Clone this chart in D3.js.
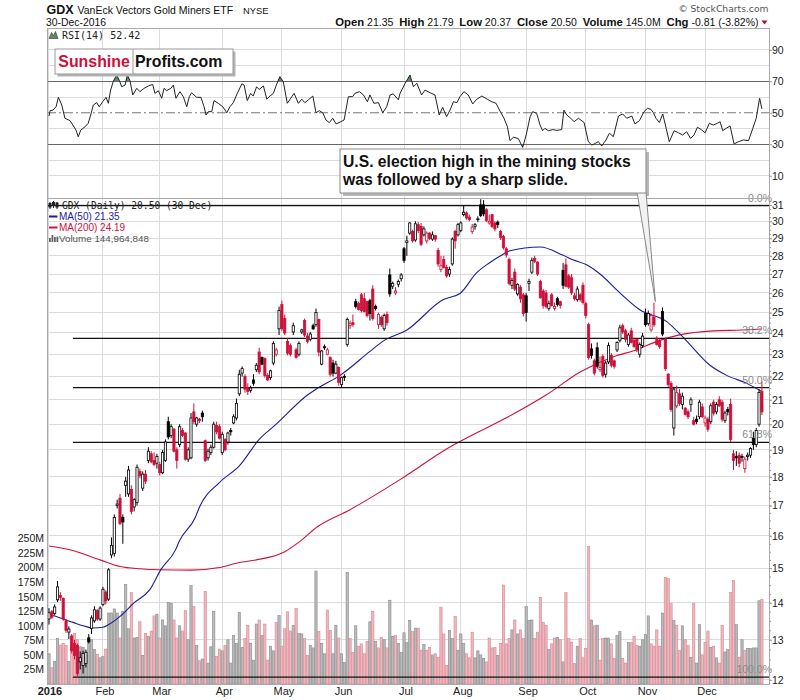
<!DOCTYPE html>
<html>
<head>
<meta charset="utf-8">
<script src="https://cdn.jsdelivr.net/npm/d3@7"></script>
<style>
  body { margin: 0; background: #fff; }
</style>
</head>
<body>
<div id="chart"></div>
<script>
// ---- data (GDX daily, 2016) ----
const monthLabels = ["2016", "Feb", "Mar", "Apr", "May", "Jun", "Jul", "Aug", "Sep", "Oct", "Nov", "Dec"];
const monthStarts = [0, 19, 39, 61, 82, 103, 125, 145, 168, 189, 210, 231]; // trading day index

const opens = [13.55,13.75,13.70,14.08,14.20,14.12,13.50,13.20,13.10,12.90,
  12.85,12.44,12.35,12.40,13.05,13.30,13.50,13.78,13.55,13.95,
  14.30,14.10,15.40,15.45,17.00,17.25,16.60,17.70,17.40,17.55,
  16.95,17.10,18.20,17.60,18.10,18.60,18.85,18.60,18.50,18.45,
  18.15,18.60,20.10,19.55,19.80,19.00,19.20,19.75,19.65,18.65,
  18.70,20.50,20.00,20.20,20.45,19.35,18.70,18.90,19.10,19.95,
  19.90,18.90,19.40,19.30,19.75,20.05,20.25,21.25,22.15,22.00,
  21.50,21.40,21.85,22.30,23.10,22.85,22.80,22.05,21.95,22.60,
  23.00,24.20,25.40,24.70,23.60,23.40,24.05,23.20,23.00,24.05,
  24.60,23.85,23.70,24.35,24.40,24.65,22.55,23.35,23.00,22.85,
  22.60,22.15,22.40,21.65,22.00,23.45,24.35,24.50,25.55,25.45,
  25.90,25.70,25.55,25.60,26.20,25.30,24.40,24.75,24.20,24.90,
  26.95,26.35,26.00,26.45,26.75,28.40,28.75,29.30,29.40,28.90,
  29.80,29.70,29.20,28.85,29.30,28.95,29.15,28.30,27.25,27.80,
  27.35,27.00,27.55,29.40,29.20,29.45,30.40,30.50,30.25,29.40,
  29.70,30.10,31.00,31.00,30.70,29.90,30.40,29.90,29.95,29.40,
  29.10,28.40,27.80,26.40,27.10,25.95,26.30,25.90,25.85,26.50,
  27.10,27.85,27.65,26.60,26.10,26.00,25.20,25.90,25.20,25.70,
  25.55,27.20,27.50,26.90,26.80,25.85,25.65,25.90,26.40,25.45,
  24.40,23.25,22.70,23.30,22.30,22.90,22.10,22.65,22.95,22.70,
  23.20,23.65,24.35,24.10,23.45,24.10,23.65,23.70,23.00,23.40,
  24.95,24.45,24.15,24.75,23.75,23.60,25.05,23.70,22.10,21.70,
  19.85,20.75,21.25,20.80,20.65,20.50,20.80,20.15,20.20,20.30,
  20.70,20.05,20.20,20.10,20.90,20.50,21.00,20.90,20.15,20.60,
  20.80,18.85,18.75,18.80,18.75,18.30,18.75,18.80,19.45,19.20,
  20.00,21.35];

const highs = [13.85,13.80,13.95,14.62,14.30,14.15,13.55,13.35,13.15,13.00,
  12.90,12.70,12.72,12.75,13.15,13.65,13.90,13.82,13.90,14.45,
  14.35,15.00,15.95,16.70,17.20,17.40,16.70,18.00,18.40,17.70,
  17.25,18.45,18.30,18.20,18.25,19.10,18.95,18.90,18.85,18.55,
  19.00,19.40,20.30,20.00,19.85,19.10,20.00,19.85,19.70,19.10,
  20.45,20.85,20.30,20.25,20.55,19.40,19.05,19.20,20.10,20.10,
  20.00,19.70,19.45,19.70,19.85,20.40,21.05,22.30,22.45,22.10,
  21.70,21.60,22.10,22.60,23.30,22.90,22.85,22.15,22.30,23.60,
  23.30,25.30,25.60,24.90,23.75,23.50,24.50,23.30,23.60,24.20,
  24.70,24.00,24.05,24.45,25.20,24.70,23.20,23.45,23.30,22.90,
  22.75,22.70,22.45,22.00,22.10,24.75,24.60,24.90,25.70,25.55,
  26.00,26.00,25.60,25.70,26.40,25.40,25.00,24.85,24.95,25.05,
  27.30,26.60,26.30,26.70,27.05,28.50,29.15,29.95,29.50,30.00,
  29.95,29.90,29.70,29.40,29.35,29.40,29.20,28.45,28.00,28.00,
  27.50,27.40,29.05,29.50,29.90,30.00,30.95,30.60,30.40,29.85,
  29.90,30.30,31.35,31.30,30.80,30.40,30.45,30.00,30.05,29.50,
  29.20,28.50,27.90,26.80,27.30,26.50,26.40,26.00,26.00,26.75,
  27.90,28.00,27.70,26.70,26.20,26.15,25.60,26.00,25.50,25.80,
  25.60,27.60,27.85,27.00,27.00,26.00,26.35,26.00,26.55,25.55,
  24.50,23.50,22.80,23.55,22.90,23.00,22.70,23.55,23.05,22.75,
  23.60,24.40,24.45,24.20,24.00,24.25,23.75,23.75,23.55,24.00,
  25.20,25.10,24.95,25.50,23.85,23.75,25.25,23.80,22.15,21.80,
  21.55,21.60,21.45,21.30,20.70,20.60,21.10,20.30,20.35,21.00,
  20.85,20.35,20.30,20.85,21.00,20.90,21.15,21.00,20.55,20.70,
  21.05,19.00,18.95,18.90,18.85,18.75,18.90,19.10,19.70,19.85,
  21.45,21.79];

const lows = [13.40,13.55,13.65,14.02,14.05,13.50,13.18,13.02,12.65,12.50,
  12.07,12.25,12.15,12.30,12.90,13.15,13.45,13.50,13.50,13.90,
  13.95,14.05,15.30,15.35,16.90,16.35,15.75,17.30,17.30,16.70,
  16.80,17.00,17.95,17.50,17.75,18.50,18.50,18.40,18.30,18.05,
  18.10,18.55,19.40,19.45,18.90,18.30,19.10,19.50,18.60,18.55,
  18.65,20.00,19.90,20.05,20.10,18.55,18.60,18.80,19.05,19.60,
  19.40,18.80,18.95,19.20,19.55,20.00,20.15,21.15,22.00,21.30,
  21.20,21.30,21.60,22.20,22.10,22.50,21.95,21.80,21.85,22.50,
  22.90,23.90,24.10,23.90,22.95,22.90,23.90,22.80,22.90,23.95,
  23.80,23.50,23.60,24.15,24.30,22.90,22.50,23.20,22.95,22.00,
  22.00,22.10,21.60,21.50,21.80,23.35,24.20,24.30,25.20,25.10,
  25.00,25.00,24.75,24.60,24.60,25.10,24.20,24.30,24.10,24.35,
  25.80,26.20,25.90,26.30,26.60,27.60,28.00,29.20,28.75,28.80,
  29.30,28.55,29.10,28.70,28.90,28.85,28.80,27.40,27.10,27.30,
  26.80,26.85,27.45,28.40,29.10,29.35,30.30,30.10,30.00,29.25,
  29.50,29.95,30.25,30.30,29.95,29.80,29.60,29.40,29.60,28.90,
  28.35,27.90,26.40,26.20,26.10,25.85,25.50,24.80,24.55,26.10,
  27.00,27.60,26.90,25.70,25.20,25.20,25.10,25.30,25.10,25.30,
  25.20,26.20,26.30,26.20,25.90,25.60,25.55,25.55,25.40,24.70,
  22.75,22.80,22.05,22.35,22.20,21.95,21.95,22.55,22.40,22.35,
  23.10,23.55,23.95,23.55,23.35,23.50,23.30,23.10,22.85,23.30,
  24.30,24.35,24.05,24.30,23.40,23.25,23.85,22.25,21.55,20.50,
  19.55,20.65,20.75,20.60,20.35,20.20,20.50,19.95,20.00,20.20,
  20.25,19.90,19.70,20.00,20.35,20.40,20.70,20.10,20.05,20.35,
  19.30,18.25,18.40,18.35,18.55,18.15,18.60,18.70,19.00,19.10,
  19.90,20.37];

const closes = [13.72,13.60,13.88,14.45,14.15,13.55,13.25,13.28,12.72,12.60,
  12.15,12.54,12.65,12.68,12.95,13.58,13.80,13.55,13.85,14.38,
  14.05,14.95,15.70,16.60,17.05,16.40,16.45,17.85,18.25,16.80,
  17.20,18.35,18.05,18.10,17.85,18.95,18.55,18.45,18.75,18.15,
  18.90,19.30,19.50,19.90,18.95,18.60,19.90,19.55,18.65,19.00,
  20.25,20.10,20.25,20.15,20.30,18.60,18.95,19.10,20.00,19.70,
  19.45,19.60,19.00,19.65,19.70,20.30,20.85,22.10,22.35,21.45,
  21.35,21.50,21.70,22.50,22.20,22.55,22.05,21.85,22.25,23.50,
  23.20,25.10,24.20,24.00,23.05,23.00,24.35,22.85,23.50,24.15,
  23.90,23.60,23.95,24.20,25.00,23.10,23.15,23.30,23.20,22.10,
  22.15,22.55,21.75,21.95,21.98,24.65,24.45,24.40,25.30,25.15,
  25.10,25.05,24.85,24.95,24.70,25.20,24.90,24.40,24.85,24.50,
  25.95,26.50,26.10,26.60,26.95,27.75,28.85,29.90,28.85,29.85,
  29.45,28.65,29.55,29.30,29.00,29.20,28.95,27.55,27.45,27.35,
  26.90,27.25,28.95,28.85,29.80,29.90,30.55,30.20,30.10,29.65,
  29.80,30.15,30.35,30.45,30.05,30.00,29.70,29.55,29.80,29.05,
  28.45,28.05,26.50,26.65,26.20,26.45,25.70,24.95,25.00,26.60,
  27.75,27.70,27.00,25.75,25.35,25.30,25.45,25.35,25.30,25.40,
  25.35,26.40,26.35,26.30,26.00,25.70,26.20,25.65,25.50,24.85,
  22.85,22.95,22.15,22.45,22.40,22.05,22.60,23.40,22.50,22.45,
  23.55,24.25,24.05,23.70,23.90,23.55,23.35,23.20,23.45,23.85,
  24.40,24.95,24.85,24.40,23.45,23.35,23.95,22.35,21.65,20.60,
  21.45,21.30,20.85,21.15,20.40,20.30,21.00,20.00,20.10,20.90,
  20.30,20.25,19.80,20.75,20.45,20.80,20.75,20.20,20.45,20.50,
  19.40,18.60,18.70,18.50,18.72,18.65,18.80,19.05,19.20,19.75,
  21.31,20.50];

// volume in millions of shares
const volumes = [52,28,39,78,67,70,66,39,62,87,76,64,63,50,74,76,59,51,45,47,
  60,122,122,129,122,79,125,171,95,157,79,80,107,49,87,82,91,117,120,79,
  110,100,140,139,110,79,100,91,126,76,169,133,66,40,43,159,36,64,125,47,
  60,57,66,76,
  36,83,70,123,63,78,101,70,41,103,
  110,83,103,41,65,57,106,118,65,95,
  124,91,101,130,87,86,78,49,66,62,
  194,90,70,52,127,92,52,101,79,52,
  37,192,78,54,100,65,69,52,73,107,
  125,73,62,80,76,62,144,82,83,70,
  54,88,71,109,90,96,96,58,68,58,
  63,50,52,46,132,86,32,92,78,116,
  58,86,70,52,45,89,45,57,50,44,
  38,79,62,63,49,70,170,69,78,93,
  110,86,93,78,133,109,110,78,89,149,
  106,101,59,69,79,80,76,38,157,78,
  72,35,65,78,45,61,236,110,100,101,
  41,78,79,79,69,44,83,90,44,36,
  71,71,82,66,65,76,85,117,69,65,
  93,65,122,183,181,138,109,101,58,100,
  76,66,46,138,36,102,50,71,91,63,
  65,45,36,101,55,59,157,178,102,46,
  76,58,61,61,62,62,143,145];

// moving averages at these trading-day positions
const ma50Days = [0,4,8.5,12,15.5,19,21,25,30,35.5,39.5,44.5,46,51.5,53,60,67,74,80,91,94,102.5,113,117.5,126,
  138.7,144.7,150.6,155,159,162,173,181,184.5,189.3,194,201,208,217.5,223.3,232.7,238.6,245.7,251];
const ma50Values = [13.68,13.58,13.46,13.37,13.31,13.33,13.40,13.62,14.0,14.37,14.97,15.55,15.85,16.6,16.95,17.8,18.4,19.4,20.0,21.2,21.45,22.05,23.13,23.6,24.14,
  25.65,25.97,27.07,27.6,28.0,28.27,28.5,28.03,27.78,27.5,27.0,26.0,25.14,24.55,23.79,22.5,22.05,21.7,21.35];
const ma200Days = [0,7.4,18,25,32,39,50,60,67,73,83,88,94.6,106,124,141,152,163,175,187,199,207,214,222,234,244,251];
const ma200Values = [15.68,15.56,15.25,15.05,14.98,14.95,14.94,15.02,15.17,15.25,15.5,15.8,16.3,16.86,17.93,19.1,19.74,20.38,21.2,22.2,22.9,23.21,23.6,23.91,24.1,24.14,24.19];

// RSI(14)
const rsiDays = [0,0.4,1.4,2.5,3.3,4.5,5.6,7.4,8.6,9.5,10.3,11.2,12.7,13.8,14.7,15.6,16.8,17.7,18.9,20.1,
  20.9,21.7,22.6,23.8,24.8,25.6,26.8,27.6,28.5,29.5,30.9,32,33.5,35,36.5,37.3,38.5,39.7,40.5,41.4,
  42.9,43.8,44.7,46.1,47.3,48.5,49.4,50.2,52,53.5,54.6,55.3,56.1,57.3,58.1,59.6,61.2,62.6,63.7,64.9,
  66.3,67.9,68.7,69.8,71,71.9,73.1,74,75.5,76.7,77.8,79,80.2,81.3,82.5,83.9,85.1,86.3,87.8,89,
  90.1,91.3,92.9,94,95.2,96.4,97.5,98.7,99.9,101.1,102.5,103.9,105.4,106.9,107.7,109.3,110.7,112.1,113,114.4,
  116,117.5,118.9,120.1,121.2,123,123.6,125.4,127.1,128.3,129.5,131.2,132.4,134.2,135.9,137.4,138.6,140,141.2,142.4,
  143.6,144.7,146.1,147.6,149.2,150.6,152.4,154.3,155.9,157.4,158.6,160.2,161.4,162.3,163.5,165.2,166.8,168,169.4,170.3,
  171.7,172.9,173.8,174.6,175.8,177.4,178.8,180.5,181.3,182.3,183.7,184.9,186.4,188.4,189.9,191.1,192.3,193.4,194.6,196.1,
  197.3,198.7,200.5,202,203.4,205.2,206.3,207.9,209.5,210.7,211.9,212.8,213.7,214.9,216.1,217.3,218.4,220.1,221.6,223.1,
  224.5,225.9,227.1,228.3,229.8,231,232.5,233.9,235.3,236.3,237.2,238.4,239.8,241.2,242.7,244.5,246.3,247.8,249,250.2,251];
const rsiValues = [47.9,51.3,51.7,53.8,59.8,54.9,46.5,45,41.6,39,34.8,39,41.1,43.3,48.6,54.9,56.4,53.8,57,59.8,
  56,64.4,69.7,74,70.4,66.5,67.6,74,70.4,61.3,65.5,63.4,65.5,67,68,62.3,64,59.2,65.5,64,
  65.5,67.6,59.2,63.4,60.2,53.8,60.2,62.7,59.8,59.8,53.8,48.6,50.7,50.7,57.7,56,53.8,50,53.8,56.4,
  62.3,68.3,67.6,57.7,62.3,60.6,66.5,64.8,67,58.6,60.6,62.3,68.3,72.9,69.7,56,59.2,62.3,56,58.6,
  56.4,58.2,60.6,50,51.3,50,45.4,43.7,46.5,42.9,44.1,45.4,60.2,60.2,62.3,63.4,61.3,57,61.3,56,
  56.4,50,53.8,61.3,62,58.2,62.3,68.7,74,66.5,68.7,61.3,64.4,62.7,61.3,48.6,53.4,47.5,51.7,57,
  56.4,60.2,63.4,61.3,55.6,58.6,60.6,58.6,57,56,51.7,46.5,41.1,32.3,34.4,33.7,28,35.9,47.5,50.7,
  49.6,42.2,38.6,40.1,38.6,39.3,38.8,39.3,51.7,48.6,46.5,44.3,46.5,43.8,31.6,29.5,30.5,31.6,28.9,32.7,
  37,34.8,47.9,49.2,46.5,47.9,42.9,45,50.7,52.8,52.2,50,46.5,43.8,49.2,40.1,31.6,38.6,37.3,35.9,
  37.9,33.7,35.9,40.8,39.1,37.3,43.3,42.2,43.3,44.3,38.6,40.1,41.6,30.2,31.6,32.7,32.3,40.1,46.5,59.2,52.42];

// Fibonacci retracement (Jan low -> Aug high)
const fibHigh = 30.96;
const fibLow = 12.065;
const fibStartDay = 8.4;
const fibLevels = [0, 0.382, 0.5, 0.618, 1];
const fibLabels = ["0.0%", "38.2%", "50.0%", "61.8%", "100.0%"];

// axis tick labels
const priceTicks = [12,13,14,15,16,17,18,19,20,21,22,23,24,25,26,27,28,29,30,31];
const volumeTicks = [25,50,75,100,125,150,175,200,225,250];
const rsiTicks = [10,30,50,70,90];
const rsiGrid = [10,20,40,60,80,90];

const headerStats = [["Open", "21.35"], ["High", "21.79"], ["Low", "20.37"], ["Close", "20.50"],
  ["Volume", "145.0M"], ["Chg", "-0.81 (-3.82%)"]];
const noteLines = ["U.S. election high in the mining stocks", "was followed by a sharp slide."];

// ---- layout ----
const W = 800, H = 700;
const L = 47, R = 769;
const rsiTop = 28, rsiBot = 198, mainTop = 198, mainBot = 684;
const RED = "#d0103a", BLUE = "#1c1c9c";
const sans = "'Liberation Sans', Arial, sans-serif";
const mono = "'DejaVu Sans Mono', monospace";

const x = d3.scaleLinear().domain([-0.7, 253.5]).range([L, R]);
const yP = d3.scaleLog().domain([11.9, 31.43]).range([mainBot, mainTop]);
const yV = d3.scaleLinear().domain([0, 250]).range([mainBot, 538.5]);
const yR = d3.scaleLinear().domain([0, 100]).range([191.5, 34]);

const svg = d3.select("#chart").append("svg")
    .attr("width", W)
    .attr("height", H)
    .attr("font-family", sans);

const defs = svg.append("defs");
defs.append("clipPath").attr("id", "clip-main").append("rect")
    .attr("x", L).attr("y", mainTop).attr("width", R - L).attr("height", mainBot - mainTop);
defs.append("clipPath").attr("id", "clip-ob").append("rect")
    .attr("x", L).attr("y", rsiTop).attr("width", R - L).attr("height", yR(70) - rsiTop);
defs.append("clipPath").attr("id", "clip-os").append("rect")
    .attr("x", L).attr("y", yR(30)).attr("width", R - L).attr("height", rsiBot - yR(30));

// ---- grid ----
const grid = svg.append("g")
    .attr("stroke", "#dcdcdc")
    .attr("stroke-width", 1)
    .attr("shape-rendering", "crispEdges");

grid.selectAll(".vgrid")
    .data(monthStarts)
    .join("line")
    .attr("x1", d => x(d)).attr("x2", d => x(d))
    .attr("y1", rsiTop).attr("y2", mainBot);

grid.selectAll(".rgrid")
    .data(rsiGrid)
    .join("line")
    .attr("x1", L).attr("x2", R)
    .attr("y1", d => yR(d)).attr("y2", d => yR(d));

grid.selectAll(".pgrid")
    .data(priceTicks)
    .join("line")
    .attr("x1", L).attr("x2", R)
    .attr("y1", d => yP(d)).attr("y2", d => yP(d));

// ---- RSI panel ----
const rsiPts = rsiDays.map((d, i) => [d, rsiValues[i]]);

[[70, "clip-ob", "#5f8c5f"], [30, "clip-os", "#b86a5c"]].forEach(([lvl, clip, col]) => {
    svg.append("path")
        .datum(rsiPts)
        .attr("clip-path", `url(#${clip})`)
        .attr("fill", col)
        .attr("d", d3.area().x(d => x(d[0])).y0(yR(lvl)).y1(d => yR(d[1])));
});

svg.append("g")
    .attr("stroke", "#666")
    .attr("shape-rendering", "crispEdges")
    .selectAll("line")
    .data([70, 30])
    .join("line")
    .attr("x1", L).attr("x2", R)
    .attr("y1", d => yR(d)).attr("y2", d => yR(d));

svg.append("line")
    .attr("x1", L).attr("x2", R)
    .attr("y1", yR(50)).attr("y2", yR(50))
    .attr("stroke", "#777")
    .attr("stroke-dasharray", "9,3,2,3");

svg.append("path")
    .datum(rsiPts)
    .attr("fill", "none")
    .attr("stroke", "#222")
    .attr("stroke-width", 1)
    .attr("d", d3.line().x(d => x(d[0])).y(d => yR(d[1])));

// ---- main panel ----
const bars = closes.map((c, i) => ({
    i,
    o: opens[i], h: highs[i], l: lows[i], c,
    v: volumes[i],
    down: i > 0 && c < closes[i - 1]
}));

const main = svg.append("g").attr("clip-path", "url(#clip-main)");

// volume
main.append("g")
    .selectAll("rect")
    .data(bars)
    .join("rect")
    .attr("x", d => x(d.i) - 1.15)
    .attr("width", 2.3)
    .attr("y", d => yV(d.v))
    .attr("height", d => mainBot - yV(d.v))
    .attr("fill", d => d.down ? "#efb6be" : "#b9b9b9")
    .attr("stroke", d => d.down ? "#d98592" : "#8a8a8a")
    .attr("stroke-width", 0.6);

// moving averages
const maLine = d3.line()
    .x(d => x(d[0]))
    .y(d => yP(d[1]))
    .curve(d3.curveMonotoneX);

main.append("path")
    .datum(ma200Days.map((d, i) => [d, ma200Values[i]]))
    .attr("fill", "none")
    .attr("stroke", RED)
    .attr("stroke-width", 1.1)
    .attr("d", maLine);

main.append("path")
    .datum(ma50Days.map((d, i) => [d, ma50Values[i]]))
    .attr("fill", "none")
    .attr("stroke", BLUE)
    .attr("stroke-width", 1.1)
    .attr("d", maLine);

// fibonacci lines
const fibs = fibLevels.map((lvl, k) => ({
    price: fibHigh - lvl * (fibHigh - fibLow),
    label: fibLabels[k],
    start: k === 0 ? -0.7 : fibStartDay
}));

main.append("g")
    .selectAll("line")
    .data(fibs)
    .join("line")
    .attr("x1", d => x(d.start)).attr("x2", R)
    .attr("y1", d => yP(d.price)).attr("y2", d => yP(d.price))
    .attr("stroke", "#111")
    .attr("stroke-width", 1.2);

// candles
const candles = main.append("g");
candles.selectAll("line")
    .data(bars)
    .join("line")
    .attr("x1", d => x(d.i)).attr("x2", d => x(d.i))
    .attr("y1", d => yP(d.h)).attr("y2", d => yP(d.l))
    .attr("stroke", d => d.down ? RED : "#000")
    .attr("stroke-width", 1);

candles.selectAll("rect")
    .data(bars)
    .join("rect")
    .attr("x", d => x(d.i) - 1.1)
    .attr("width", 2.2)
    .attr("y", d => yP(Math.max(d.o, d.c)))
    .attr("height", d => Math.max(0.8, Math.abs(yP(d.o) - yP(d.c))))
    .attr("fill", d => d.c >= d.o ? "#fff" : (d.down ? RED : "#000"))
    .attr("stroke", d => d.down ? RED : "#000")
    .attr("stroke-width", 0.8);

// fib labels
svg.append("g")
    .selectAll("text")
    .data(fibs)
    .join("text")
    .attr("x", 772)
    .attr("y", d => yP(d.price) - 4)
    .attr("text-anchor", "end")
    .attr("font-size", 10.5)
    .attr("fill", "#8a8a8a")
    .text(d => d.label);

// ---- panel borders ----
svg.append("g")
    .attr("fill", "none")
    .attr("stroke", "#aaa")
    .attr("shape-rendering", "crispEdges")
    .selectAll("rect")
    .data([[rsiTop, rsiBot], [mainTop, mainBot]])
    .join("rect")
    .attr("x", L).attr("y", d => d[0])
    .attr("width", R - L).attr("height", d => d[1] - d[0]);

// ---- axes ----
const styleAxis = (g, size) => {
    g.select(".domain").remove();
    g.attr("font-family", sans);
    g.selectAll("text").attr("font-size", size).attr("fill", "#222");
    g.selectAll("line").attr("stroke", "#999");
};

svg.append("g")
    .attr("transform", `translate(${R},0)`)
    .call(d3.axisRight(yP).tickValues(d3.range(12, 31.45, 0.25)).tickSize(2).tickFormat(""))
    .call(g => styleAxis(g, 10));

svg.append("g")
    .attr("transform", `translate(${R},0)`)
    .call(d3.axisRight(yP).tickValues(priceTicks).tickSize(3).tickPadding(0).tickFormat(d => d))
    .call(g => styleAxis(g, 10.5));

svg.append("g")
    .attr("transform", `translate(${R},0)`)
    .call(d3.axisRight(yR).tickValues(rsiTicks).tickSize(3).tickPadding(0))
    .call(g => styleAxis(g, 10.5));

svg.append("g")
    .attr("transform", `translate(${L},0)`)
    .call(d3.axisLeft(yV).tickValues(volumeTicks).tickSize(0).tickPadding(3).tickFormat(d => d + "M"))
    .call(g => styleAxis(g, 10.5));

svg.append("g")
    .attr("transform", `translate(0,${mainBot})`)
    .call(d3.axisBottom(x).tickValues(monthStarts).tickSize(0).tickPadding(3)
        .tickFormat((d, i) => monthLabels[i]))
    .call(g => styleAxis(g, 11))
    .call(g => g.selectAll("text").attr("dx", 1.5))
    .call(g => g.select(".tick text").attr("font-weight", "bold").attr("dx", 0.5));

// ---- legends ----
svg.append("path")
    .attr("d", "M49,38.5 L51.5,32.5 L53.5,35.5 L55.5,31.5 L58,38.5 Z")
    .attr("fill", "#5f8c5f").attr("stroke", "#333").attr("stroke-width", 0.6);
svg.append("text")
    .attr("x", 62).attr("y", 38.5)
    .attr("font-family", mono).attr("font-size", 10).attr("fill", "#222")
    .text(`RSI(14) ${rsiValues[rsiValues.length - 1]}`);

// candle glyph for the price legend
const glyph = svg.append("g").attr("stroke", "#222").attr("stroke-width", 1);
[[50, 202, 209, 203.5, 207], [53.5, 201, 208, 202.5, 205.5], [57, 202, 209, 203, 207]].forEach(([gx, a, b, c, e]) => {
    glyph.append("line").attr("x1", gx).attr("x2", gx).attr("y1", a).attr("y2", b);
    glyph.append("rect").attr("x", gx - 1).attr("y", c).attr("width", 2).attr("height", e - c).attr("fill", "#222");
});

svg.append("text")
    .attr("x", 62).attr("y", 209)
    .attr("font-family", mono).attr("font-size", 9.6).attr("fill", "#222")
    .text(`GDX (Daily) ${closes[closes.length - 1].toFixed(2)} (30 Dec)`);

const legendRows = [
    { y: 220, color: BLUE, text: `MA(50) ${ma50Values[ma50Values.length - 1]}` },
    { y: 231, color: RED, text: `MA(200) ${ma200Values[ma200Values.length - 1]}` }
];
legendRows.forEach(r => {
    svg.append("line").attr("x1", 49).attr("x2", 57.5).attr("y1", r.y - 3.5).attr("y2", r.y - 3.5)
        .attr("stroke", r.color).attr("stroke-width", 2);
    svg.append("text").attr("x", 59).attr("y", r.y)
        .attr("font-size", 10).attr("fill", r.color).text(r.text);
});

[[49, 238], [51.5, 235], [54, 237], [56.5, 236.5]].forEach(([bx, by]) => {
    svg.append("rect").attr("x", bx).attr("y", by).attr("width", 1.8).attr("height", 242 - by).attr("fill", "#666");
});
svg.append("text").attr("x", 59).attr("y", 242)
    .attr("font-size", 9.8).attr("fill", "#555").text("Volume 144,964,848");

// ---- header ----
svg.append("text").attr("x", 46.5).attr("y", 13.5)
    .attr("font-size", 12.5).attr("font-weight", "bold").attr("fill", "#111").text("GDX");
svg.append("text").attr("x", 77.5).attr("y", 13.5)
    .attr("font-size", 10.5).attr("fill", "#111").text("VanEck Vectors Gold Miners ETF");
svg.append("text").attr("x", 243).attr("y", 13.5)
    .attr("font-size", 9.4).attr("fill", "#111").text("NYSE");
svg.append("text").attr("x", 46).attr("y", 25.5)
    .attr("font-size", 10.4).attr("fill", "#111").text("30-Dec-2016");
svg.append("text").attr("x", 768.5).attr("y", 12)
    .attr("text-anchor", "end")
    .attr("font-family", "'DejaVu Sans', sans-serif")
    .attr("font-size", 9.2).attr("fill", "#555").text("\u00A9 StockCharts.com");

const stats = svg.append("text")
    .attr("x", 758.5).attr("y", 25.5)
    .attr("text-anchor", "end")
    .style("white-space", "pre")
    .attr("fill", "#111");
headerStats.forEach(([k, v], i) => {
    stats.append("tspan").attr("font-weight", "bold").attr("font-size", 11.3).text(k);
    stats.append("tspan").attr("font-size", 10.5).text(" " + v + (i < headerStats.length - 1 ? "  " : ""));
});
svg.append("path").attr("d", "M761.5,20.5 L767.5,20.5 L764.5,24.5 Z").attr("fill", "#a0143c");

// ---- SunshineProfits stamp ----
svg.append("rect").attr("x", 57.5).attr("y", 51.5).attr("width", 178).attr("height", 25).attr("fill", "#b3b3b3");
svg.append("rect").attr("x", 55).attr("y", 49).attr("width", 178).attr("height", 25)
    .attr("fill", "#fff").attr("stroke", "#999");
svg.append("line").attr("x1", 133).attr("x2", 133).attr("y1", 49).attr("y2", 74).attr("stroke", "#999");
svg.append("text").attr("x", 58.3).attr("y", 67)
    .attr("font-size", 15.9).attr("font-weight", "bold").attr("fill", RED).text("Sunshine");
svg.append("text").attr("x", 135).attr("y", 67)
    .attr("font-size", 15.9).attr("font-weight", "bold").attr("fill", "#111").text("Profits.com");

// ---- annotation callout ----
svg.append("rect").attr("x", 343).attr("y", 152).attr("width", 306).attr("height", 44).attr("fill", "#b8b8b8");
svg.append("path")
    .attr("d", `M637,192 L${x(213.5)},${yP(highs[213]) - 1} L646,192 Z`)
    .attr("fill", "#f2f2f2").attr("stroke", "#888").attr("stroke-width", 1);
svg.append("rect").attr("x", 340).attr("y", 149).attr("width", 306).attr("height", 44)
    .attr("fill", "#fff").attr("stroke", "#8a8a8a");
svg.append("g")
    .selectAll("text")
    .data(noteLines)
    .join("text")
    .attr("x", 343)
    .attr("y", (d, i) => 166.5 + i * 18.5)
    .attr("font-size", 15.7)
    .attr("font-weight", "bold")
    .attr("fill", "#111")
    .text(d => d);
</script>
</body>
</html>
